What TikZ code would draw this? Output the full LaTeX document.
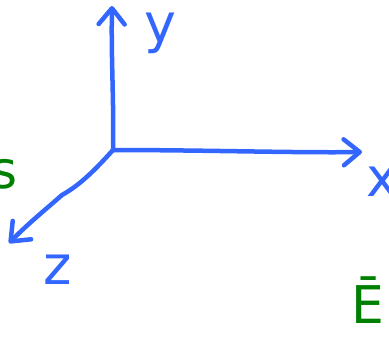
\documentclass[tikz,border=0pt]{standalone}
\usepackage{fontspec}
\setmainfont{DejaVu Sans}
\usetikzlibrary{arrows.meta}
\definecolor{penblue}{RGB}{51,102,255}
\definecolor{pengreen}{RGB}{0,128,0}
\tikzset{
  axis/.style={draw=penblue, line width=4.5pt, line cap=round, line join=round,
    -{Straight Barb[length=16pt,width=26pt,line width=4.5pt,round]}},
  bluelab/.style={text=penblue, inner sep=0pt, font=\fontsize{54}{54}\selectfont},
  greenlab/.style={text=pengreen, inner sep=0pt, font=\fontsize{52}{52}\selectfont},
}
\begin{document}
\begin{tikzpicture}[x=1pt,y=-1pt]
\useasboundingbox (0,0) rectangle (389,362);
\clip (0,0) rectangle (389,362);
\coordinate (o) at (113,150);
\coordinate (ytip) at (112,6);
\coordinate (xtip) at (362,152);
\coordinate (ztip) at (9,243);
\draw[axis] (o) .. controls (114,100) and (111,60) .. (ytip);
\draw[axis] (o) .. controls (200,150) and (300,153) .. (xtip);
\draw[axis] (o) .. controls (95,170) and (80,185) .. (62,195) .. controls (45,210) and (30,222) .. (ztip);
\node[bluelab] (ylab) at (160,33) {y};
\node[bluelab] (xlab) at (382,182) {x};
\node[bluelab] (zlab) at (58,270) {z};
\node[greenlab] (slab) at (4,174) {s};
\node[greenlab] (elab) at (368,300) {Ē};
\end{tikzpicture}
\end{document}
